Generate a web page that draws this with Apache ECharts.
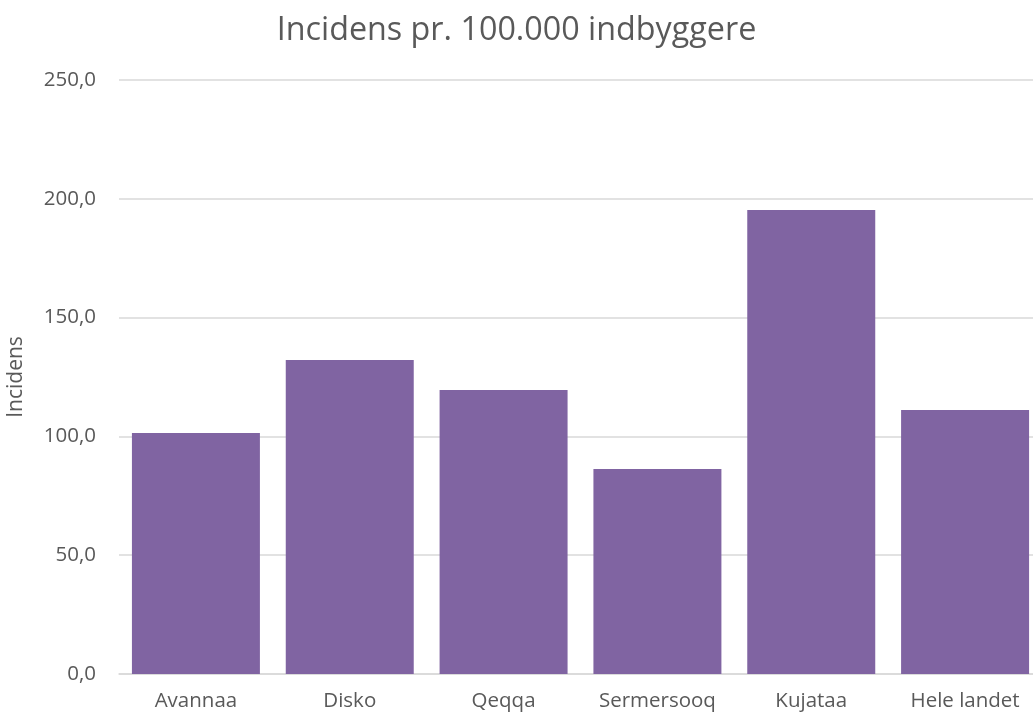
<!DOCTYPE html>
<html>
<head>
<meta charset="utf-8">
<script src="https://cdn.jsdelivr.net/npm/echarts@6/dist/echarts.min.js"></script>
<style>
  html, body { margin: 0; padding: 0; background: #fff; }
  #chart { width: 1033px; height: 718px; }
</style>
</head>
<body>
<div id="chart"></div>
<script>
const categories = ['Avannaa', 'Disko', 'Qeqqa', 'Sermersooq', 'Kujataa', 'Hele landet']
const incidens = [101.4, 132.2, 119.5, 86.3, 195.3, 111.1]

const chart = echarts.init(document.getElementById('chart'))
const font = '"Open Sans", sans-serif'

chart.setOption({
    title: {
        text: 'Incidens pr. 100.000 indbyggere',
        left: 'center',
        top: 10,
        textStyle: { fontFamily: font, fontSize: 32.3, fontWeight: 'normal', color: '#595959' }
    },
    grid: { left: 119, right: -9, top: 80, bottom: 44, outerBoundsMode: 'none', containLabel: false },
    xAxis: {
        type: 'category',
        data: categories,
        axisTick: { show: false },
        axisLine: { lineStyle: { color: '#d9d9d9', width: 1.5 } },
        axisLabel: { interval: 0, fontFamily: font, fontSize: 20.5, color: '#595959', margin: 17 }
    },
    yAxis: {
        type: 'value',
        min: 0,
        max: 250,
        interval: 50,
        name: 'Incidens',
        nameLocation: 'middle',
        nameGap: 92,
        nameTextStyle: { fontFamily: font, fontSize: 21, color: '#595959' },
        axisLabel: {
            fontFamily: font, fontSize: 20.5, color: '#595959', margin: 23,
            formatter: v => v.toFixed(1).replace('.', ',')
        },
        splitLine: { lineStyle: { color: '#d9d9d9', width: 1.5 } }
    },
    series: [
        {
            type: 'bar',
            data: incidens,
            barCategoryGap: '16.8%',
            itemStyle: { color: '#8064A2' }
        }
    ]
})
</script>
</body>
</html>
